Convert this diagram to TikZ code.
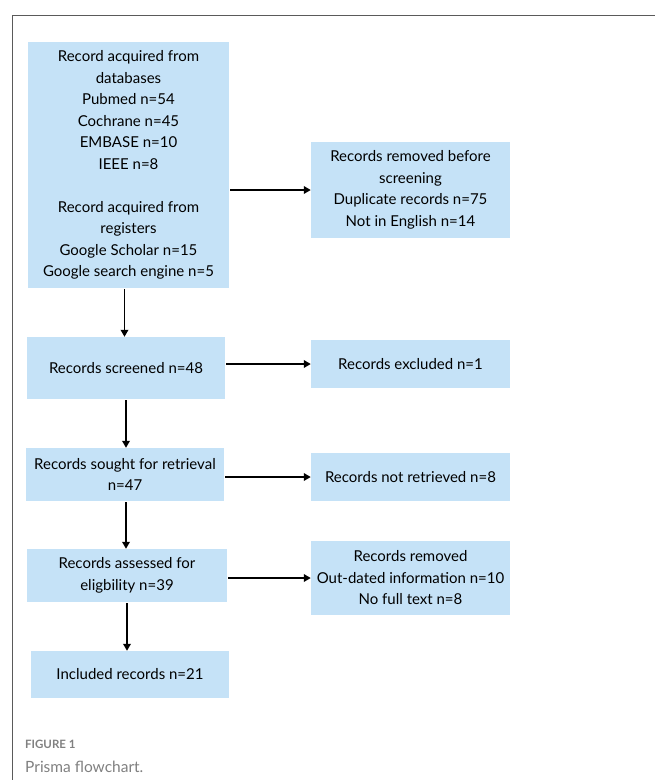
\documentclass[tikz,border=0pt]{standalone}
\usepackage{fontspec}
\setmainfont{Lato}
\usepackage{tikz}
\usetikzlibrary{arrows.meta}
\usetikzlibrary{positioning}

\definecolor{boxblue}{HTML}{C5E2F7}
\definecolor{framegray}{HTML}{5A5A5A}
\definecolor{captiongray}{HTML}{808080}

\begin{document}
\begin{tikzpicture}[x=1pt,y=-1pt,>={Triangle[length=7pt,width=7.5pt]},
    box/.style={fill=boxblue,align=center,inner sep=2pt,font=\fontsize{15}{21.5}\selectfont},
    flow/.style={->,line width=1.8pt,shorten <=1pt}]

        \useasboundingbox (0,0) rectangle (655,780);

            % Frame
            \draw[framegray,line width=0.8pt] (655,15) -- (12,15) -- (12,780);

            % Main column
            \node[box,minimum width=201pt,minimum height=246pt] (B1) at (128.5,165) {Record acquired from\\databases\\Pubmed n=54\\Cochrane n=45\\EMBASE n=10\\IEEE n=8\\[21.5pt]Record acquired from\\registers\\Google Scholar n=15\\Google search engine n=5};
            \node[box,minimum width=198pt,minimum height=62pt] (B2) at (126,368) {Records screened n=48};
            \node[box,minimum width=198pt,minimum height=53pt] (B3) at (125,474.5) {Records sought for retrieval\\n=47};
            \node[box,minimum width=200pt,minimum height=53pt] (B4) at (127,575.5) {Records assessed for\\eligbility n=39};
            \node[box,minimum width=198pt,minimum height=47pt] (B5) at (130,674.5) {Included records n=21};

            % Side column
            \node[box,minimum width=199pt,minimum height=96pt] (R1) at (410.5,190) {Records removed before\\screening\\Duplicate records n=75\\Not in English n=14};
            \node[box,minimum width=199pt,minimum height=48pt] (R2) at (410.5,364) {Records excluded n=1};
            \node[box,minimum width=199pt,minimum height=48pt] (R3) at (410.5,477) {Records not retrieved n=8};
            \node[box,minimum width=199pt,minimum height=74pt] (R4) at (410.5,578) {Records removed\\Out-dated information n=10\\No full text n=8};

            % Arrows down
            \draw[flow] ([xshift=-4pt]B1.south) -- ([xshift=-4pt]B1.south |- B2.north);
            \draw[flow] (B2.south) -- (B2.south |- B3.north);
            \draw[flow] ([xshift=1pt]B3.south) -- ([xshift=1pt]B3.south |- B4.north);
            \draw[flow] (B4.south) -- (B4.south |- B5.north);

            % Arrows across
            \draw[flow] (B1.east |- R1.west) -- (R1.west);
            \draw[flow] (B2.east |- R2.west) -- (R2.west);
            \draw[flow] (B3.east |- R3.west) -- (R3.west);
            \draw[flow] (B4.east |- R4.west) -- (R4.west);

            % Caption
            \node[anchor=west,inner sep=0pt,text=captiongray,font=\fontsize{11.5}{14}\selectfont\bfseries] (fig) at (25,744) {FIGURE 1};
            \node[anchor=west,inner sep=0pt,text=captiongray,font=\fontsize{15.5}{18}\selectfont] (cap) at (25,767) {Prisma flowchart.};

        \end{tikzpicture}
\end{document}
